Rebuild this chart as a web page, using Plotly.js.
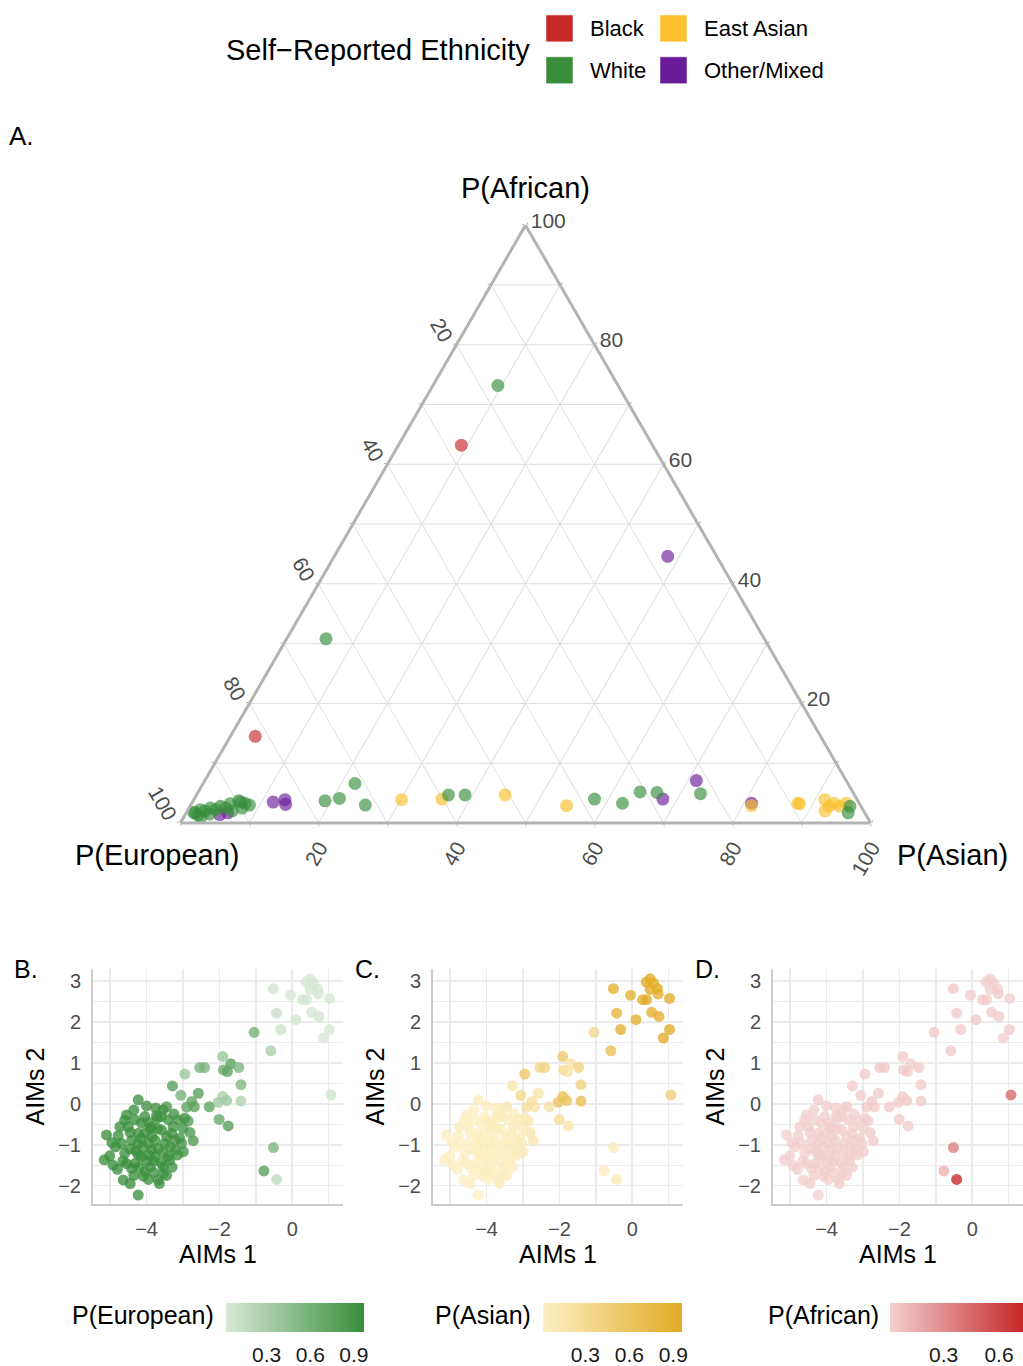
<!DOCTYPE html>
<html><head><meta charset="utf-8">
<script src="https://cdn.plot.ly/plotly-3.0.1.min.js"></script>
<style>html,body{margin:0;padding:0;background:#fff;overflow:hidden;width:1023px;height:1366px}#chart{width:1023px;height:1366px;overflow:hidden}</style>
</head><body><div id="chart"></div>
<script>
// ---------------- DATA ----------------
const ethnicities = ['Black', 'East Asian', 'White', 'Other/Mixed'];
const ethColors = {'Black':'#c62828', 'White':'#388e3c', 'East Asian':'#fbc02d', 'Other/Mixed':'#6a1b9a'};
const drawOrder = ['Other/Mixed', 'East Asian', 'Black', 'White'];

// Ternary values (%), per self-reported ethnicity
const blackAfr = [63.2, 14.5];
const blackEur = [27.7, 81.9];
const blackAsi = [9.1, 3.6];

const whiteAfr = [73.2, 30.8, 1.7, 2.2, 2.0, 2.5, 2.2, 2.8, 2.5, 3.2, 3.7, 3.3, 2.5, 1.3, 1.5, 3.0, 1.0, 2.0, 3.5, 1.8,
                  3.7, 4.1, 6.6, 3.0, 4.7, 4.7, 4.0, 3.3, 5.2, 5.1, 4.9, 2.8, 1.7];
const whiteEur = [17.4, 63.5, 97.0, 96.0, 95.4, 94.4, 93.8, 92.8, 92.2, 91.2, 89.7, 89.0, 89.8, 96.8, 95.0, 88.5, 96.5, 91.5, 89.5, 97.2,
                  77.2, 74.9, 71.4, 71.7, 58.8, 56.4, 38.0, 34.3, 30.8, 28.4, 22.2, 1.6, 2.4];
const whiteAsi = [9.4, 5.7, 1.3, 1.8, 2.6, 3.1, 4.0, 4.4, 5.3, 5.6, 6.6, 7.7, 7.7, 1.9, 3.5, 8.5, 2.5, 6.5, 7.0, 1.0,
                  19.1, 21.0, 22.0, 25.3, 36.5, 38.9, 58.0, 62.4, 64.0, 66.5, 72.9, 95.6, 95.9];

const asianAfr = [3.9, 4.0, 4.7, 2.9, 2.9, 3.3, 3.2, 3.9, 2.0, 3.3, 2.8, 3.3, 2.8];
const asianEur = [66.0, 60.1, 50.6, 42.6, 15.8, 8.9, 8.7, 4.7, 5.6, 3.6, 3.1, 1.9, 4.6];
const asianAsi = [30.1, 35.9, 44.7, 54.5, 81.3, 87.8, 88.1, 91.4, 92.4, 93.1, 94.1, 94.8, 92.6];

const otherAfr = [44.6, 1.7, 3.5, 3.9, 3.1, 4.0, 7.1, 3.3, 1.4];
const otherEur = [7.1, 92.3, 84.8, 82.9, 83.2, 28.1, 21.7, 15.6, 93.6];
const otherAsi = [48.3, 6.0, 11.7, 13.2, 13.7, 67.9, 71.2, 81.1, 5.0];

const ternaryTickVals = [0, 10, 20, 30, 40, 50, 60, 70, 80, 90, 100];
const ternaryTickText = ['100', '', '80', '', '60', '', '40', '', '20', '', ''];

// AIMs principal components and ancestry proportions
const aims1 = [
 -0.52, -0.05, 0.38, 0.49, 0.58, 0.69, 0.49, 0.71, 0.28, 0.39,
 1.02, -0.43, 0.53, 0.10, 0.73, -0.32, 1.02, 0.85, -1.05, -0.59,
 1.06, -0.52, -0.78, -0.43, -1.91, -1.69, -1.89, -1.78, -1.47, -2.54,
 -2.41, -2.95, -1.41, -3.29, -3.06, -2.58, -2.76, -2.69, -2.90, -2.28,
 -2.03, -1.91, -1.80, -1.41, -2.01, -1.76, -4.23, -3.45, -2.86, -2.81,
 -2.72, -4.55, -5.10, -4.78, -4.73, -5.16, -5.01, -4.92, -4.55, -4.64,
 -4.41, -4.23, -4.09, -3.68, -3.54, -3.54, -3.36, -2.99, -3.22, -3.13,
 -3.40, -3.73, -4.05, -4.32, -4.50, -4.69, -4.60, -4.23, -4.05, -3.86,
 -3.59, -3.31, -3.09, -3.50, -3.86, -4.14, -3.77, -4.32, -3.90, -3.04,
 -4.41, -3.95, -4.14, -3.59, -3.27, -4.05, -4.23, -3.41, -3.77, -4.23,
 -3.68, -3.22, -3.95, -4.00, -3.60, -4.45, -3.85, -3.45, -4.10, -3.70,
 -4.85, -4.95, -4.45, -4.35, -3.95, -3.80, -3.30, -3.15, -3.00, -2.95,
 -3.55, -3.75, -4.35, -4.00, -4.65, -4.80, -4.20, -3.65, -4.45, -3.35,
 -3.95, -4.15, -3.55, -3.80, -4.30, -3.70, -3.25, -4.60, -3.90, -3.45];
const aims2 = [
 2.82, 2.66, 2.98, 3.06, 2.96, 2.82, 2.80, 2.69, 2.55, 2.55,
 2.58, 2.22, 2.24, 2.06, 2.14, 1.82, 1.82, 1.61, 1.75, 1.30,
 0.22, -1.07, -1.64, -1.85, 1.16, 0.98, 0.83, 0.79, 0.89, 0.89,
 0.89, 0.73, 0.47, 0.44, 0.21, 0.26, 0.06, -0.07, -0.08, -0.07,
 0.04, 0.18, 0.08, 0.07, -0.38, -0.54, 0.10, -0.07, -0.42, -0.70,
 -0.90, -0.27, -0.76, -0.78, -0.56, -1.37, -1.27, -1.50, -1.46, -1.86,
 -1.58, -2.23, -1.77, -1.86, -1.70, -1.54, -1.37, -1.17, -1.13, -0.39,
 -0.39, -0.29, -0.31, -0.39, -0.56, -0.97, -1.21, -0.97, -0.72, -0.56,
 -0.64, -0.72, -0.84, -0.97, -1.13, -1.29, -1.29, -1.46, -1.54, -0.97,
 -0.89, -0.97, -0.47, -0.31, -0.56, -1.66, -1.25, -1.29, -0.89, -0.72,
 -1.09, -0.89, -0.45, -1.40, -1.45, -1.10, -0.80, -0.80, -1.05, -0.60,
 -1.05, -0.95, -0.70, -1.75, -1.85, -1.68, -1.55, -1.25, -0.60, -0.35,
 -0.15, -0.10, -0.15, -0.05, -1.40, -1.60, -1.55, -1.95, -1.95, -1.05,
 -1.25, -0.85, -1.20, -1.40, -1.15, -0.35, -0.25, -0.40, -0.60, -1.75];
const pEuropean = [
 0.06, 0.05, 0.03, 0.02, 0.03, 0.04, 0.03, 0.04, 0.05, 0.04,
 0.03, 0.12, 0.04, 0.05, 0.05, 0.09, 0.03, 0.02, 0.62, 0.28,
 0.07, 0.58, 0.80, 0.17, 0.40, 0.78, 0.68, 0.75, 0.55, 0.60,
 0.58, 0.38, 0.55, 0.80, 0.62, 0.80, 0.74, 0.76, 0.74, 0.76,
 0.36, 0.30, 0.34, 0.26, 0.70, 0.80, 0.92, 0.85, 0.82, 0.84,
 0.85, 0.95, 0.97, 0.96, 0.94, 0.97, 0.96, 0.95, 0.96, 0.97,
 0.95, 0.96, 0.94, 0.93, 0.94, 0.95, 0.92, 0.90, 0.91, 0.90,
 0.92, 0.93, 0.95, 0.96, 0.96, 0.97, 0.96, 0.95, 0.95, 0.94,
 0.93, 0.92, 0.91, 0.93, 0.95, 0.96, 0.94, 0.96, 0.95, 0.91,
 0.96, 0.95, 0.96, 0.93, 0.92, 0.94, 0.96, 0.95, 0.93, 0.94,
 0.95, 0.94, 0.92, 0.94, 0.95, 0.94, 0.96, 0.94, 0.93, 0.94,
 0.97, 0.96, 0.95, 0.96, 0.95, 0.94, 0.93, 0.92, 0.91, 0.90,
 0.93, 0.94, 0.95, 0.94, 0.96, 0.97, 0.95, 0.94, 0.96, 0.93,
 0.95, 0.95, 0.94, 0.95, 0.96, 0.93, 0.91, 0.96, 0.94, 0.93];
const pAsian = [
 0.91, 0.92, 0.95, 0.96, 0.95, 0.94, 0.95, 0.93, 0.92, 0.93,
 0.95, 0.84, 0.93, 0.91, 0.92, 0.88, 0.94, 0.96, 0.34, 0.68,
 0.48, 0.06, 0.05, 0.10, 0.57, 0.19, 0.29, 0.22, 0.42, 0.36,
 0.38, 0.59, 0.42, 0.17, 0.35, 0.17, 0.23, 0.21, 0.23, 0.21,
 0.61, 0.67, 0.63, 0.71, 0.27, 0.17, 0.05, 0.12, 0.15, 0.13,
 0.12, 0.03, 0.02, 0.02, 0.04, 0.01, 0.02, 0.03, 0.02, 0.01,
 0.03, 0.02, 0.04, 0.05, 0.04, 0.03, 0.06, 0.08, 0.07, 0.08,
 0.06, 0.05, 0.03, 0.02, 0.02, 0.01, 0.02, 0.03, 0.03, 0.04,
 0.05, 0.06, 0.07, 0.05, 0.03, 0.02, 0.04, 0.02, 0.03, 0.07,
 0.02, 0.03, 0.02, 0.05, 0.06, 0.04, 0.02, 0.03, 0.05, 0.04,
 0.03, 0.04, 0.06, 0.04, 0.03, 0.04, 0.02, 0.04, 0.05, 0.04,
 0.01, 0.02, 0.03, 0.02, 0.03, 0.04, 0.05, 0.06, 0.07, 0.08,
 0.05, 0.04, 0.03, 0.04, 0.02, 0.01, 0.03, 0.04, 0.02, 0.05,
 0.03, 0.03, 0.04, 0.03, 0.02, 0.05, 0.07, 0.02, 0.04, 0.05];
const pAfrican = [
 0.03, 0.03, 0.02, 0.02, 0.02, 0.02, 0.02, 0.03, 0.03, 0.03,
 0.02, 0.04, 0.03, 0.04, 0.03, 0.03, 0.03, 0.02, 0.04, 0.04,
 0.45, 0.36, 0.15, 0.73, 0.03, 0.03, 0.03, 0.03, 0.03, 0.04,
 0.04, 0.03, 0.03, 0.03, 0.03, 0.03, 0.03, 0.03, 0.03, 0.03,
 0.03, 0.03, 0.03, 0.03, 0.03, 0.03, 0.03, 0.03, 0.03, 0.03,
 0.03, 0.02, 0.01, 0.02, 0.02, 0.02, 0.02, 0.02, 0.02, 0.02,
 0.02, 0.02, 0.02, 0.02, 0.02, 0.02, 0.02, 0.02, 0.02, 0.02,
 0.02, 0.02, 0.02, 0.02, 0.02, 0.02, 0.02, 0.02, 0.02, 0.02,
 0.02, 0.02, 0.02, 0.02, 0.02, 0.02, 0.02, 0.02, 0.02, 0.02,
 0.02, 0.02, 0.02, 0.02, 0.02, 0.02, 0.02, 0.02, 0.02, 0.02,
 0.02, 0.02, 0.02, 0.02, 0.02, 0.02, 0.02, 0.02, 0.02, 0.02,
 0.02, 0.02, 0.02, 0.02, 0.02, 0.02, 0.02, 0.02, 0.02, 0.02,
 0.02, 0.02, 0.02, 0.02, 0.02, 0.02, 0.02, 0.02, 0.02, 0.02,
 0.02, 0.02, 0.02, 0.02, 0.02, 0.02, 0.02, 0.02, 0.02, 0.02];
const colorbarTicksEur = [0.3, 0.6, 0.9];
const colorbarTicksAsi = [0.3, 0.6, 0.9];
const colorbarTicksAfr = [0.3, 0.6];

// ---------------- LAYOUT HELPERS ----------------
const W = 1023, H = 1366;
const px = x => x / W;
const py = y => 1 - y / H;
const FONT = 'Liberation Sans, Arial, Helvetica, sans-serif';

const ternGroups = {
  'Black': [blackAfr, blackEur, blackAsi],
  'White': [whiteAfr, whiteEur, whiteAsi],
  'East Asian': [asianAfr, asianEur, asianAsi],
  'Other/Mixed': [otherAfr, otherEur, otherAsi]
};

const traces = [];
drawOrder.forEach(name => {
  const g = ternGroups[name];
  traces.push({
    type: 'scatterternary', mode: 'markers', name: name, showlegend: false,
    a: g[0], b: g[1], c: g[2],
    marker: {size: 13, color: ethColors[name], opacity: 0.65, line: {width: 0}},
    hoverinfo: 'skip'
  });
});

const panels = [
  {x: 'x', y: 'y', color: pEuropean, ca: 'coloraxis'},
  {x: 'x2', y: 'y2', color: pAsian, ca: 'coloraxis2'},
  {x: 'x3', y: 'y3', color: pAfrican, ca: 'coloraxis3'}
];
panels.forEach(p => {
  traces.push({
    type: 'scatter', mode: 'markers', xaxis: p.x, yaxis: p.y, showlegend: false,
    x: aims1, y: aims2,
    marker: {size: 11, color: p.color, coloraxis: p.ca, opacity: 0.78, line: {width: 0}},
    hoverinfo: 'skip'
  });
});

const panelLeft = [93, 433, 773];
const ternAxis = (title) => ({
  title: {text: title, font: {size: 29, color: '#000', family: FONT}},
  tickmode: 'array', tickvals: ternaryTickVals, ticktext: ternaryTickText,
  tickfont: {size: 21, color: '#4d4d4d', family: FONT},
  ticks: 'outside', ticklen: 2, tickcolor: '#b3b3b3', tickwidth: 1,
  showline: true, linecolor: '#b3b3b3', linewidth: 3,
  showgrid: true, gridcolor: '#dedede', gridwidth: 1
});

const layout = {
  width: W, height: H,
  margin: {l: 0, r: 0, t: 0, b: 0},
  paper_bgcolor: '#fff', plot_bgcolor: '#fff',
  font: {family: FONT, color: '#000'},
  showlegend: false,
  ternary: {
    domain: {x: [px(179), px(872)], y: [py(826), py(226)]},
    sum: 100, bgcolor: '#fff',
    aaxis: Object.assign(ternAxis('P(African)'), {tickangle: 60}),
    baxis: Object.assign(ternAxis(''), {tickangle: -60}),
    caxis: Object.assign(ternAxis(''), {tickangle: 0})
  },
  annotations: [],
  shapes: []
};

const xBase = {
  range: [-5.47, 1.39], tickmode: 'linear', tick0: 0, dtick: 2,
  minor: {tickmode: 'linear', tick0: 0, dtick: 1, showgrid: true, gridcolor: '#ebebeb', gridwidth: 1.3},
  showgrid: true, gridcolor: '#ebebeb', gridwidth: 1.8, zeroline: false,
  showline: true, linecolor: '#cccccc', linewidth: 2, ticks: '',
  tickfont: {size: 20, color: '#4d4d4d'}, ticklabelstandoff: 6,
  title: {text: 'AIMs 1', font: {size: 25, color: '#000'}, standoff: 6}
};
const yBase = {
  range: [-2.44, 3.29], tickmode: 'linear', tick0: 0, dtick: 1,
  minor: {tickmode: 'linear', tick0: 0, dtick: 0.5, showgrid: true, gridcolor: '#ebebeb', gridwidth: 1.3},
  showgrid: true, gridcolor: '#ebebeb', gridwidth: 1.8, zeroline: false,
  showline: true, linecolor: '#cccccc', linewidth: 2, ticks: '',
  tickfont: {size: 20, color: '#4d4d4d'}, ticklabelstandoff: 6,
  title: {text: 'AIMs 2', font: {size: 25, color: '#000'}, standoff: 6}
};
['', '2', '3'].forEach((s, i) => {
  layout['xaxis' + s] = Object.assign({}, JSON.parse(JSON.stringify(xBase)),
    {domain: [px(panelLeft[i]), Math.min(1, px(panelLeft[i] + 250))], anchor: 'y' + s});
  layout['yaxis' + s] = Object.assign({}, JSON.parse(JSON.stringify(yBase)),
    {domain: [py(1208), py(973)], anchor: 'x' + s});
});

const mkBar = (scale, vals, ticks, left, len) => ({
  colorscale: scale, cmin: Math.min(...vals), cmax: Math.max(...vals),
  colorbar: {
    orientation: 'h', x: px(left), xanchor: 'left', y: py(1308), yanchor: 'top',
    lenmode: 'pixels', len: len, thicknessmode: 'pixels', thickness: 29,
    tickmode: 'array', tickvals: ticks, ticks: 'outside', ticklen: 5, tickcolor: '#ffffff', tickwidth: 1,
    outlinewidth: 0, xpad: 0, ypad: 0, tickfont: {size: 21, color: '#1a1a1a'}
  }
});
layout.coloraxis = mkBar([[0, '#d8e9d6'], [1, '#388e3c']], pEuropean, colorbarTicksEur, 226, 138);
layout.coloraxis2 = mkBar([[0, '#fdefc4'], [1, '#e2ab25']], pAsian, colorbarTicksAsi, 543, 139);
layout.coloraxis3 = mkBar([[0, '#f3d0d0'], [1, '#c62828']], pAfrican, colorbarTicksAfr, 890, 133);

const ann = (text, x, y, size, xanchor, extra) => Object.assign({
  text: text, x: px(x), y: py(y), xref: 'paper', yref: 'paper', showarrow: false,
  xanchor: xanchor || 'left', yanchor: 'middle', font: {size: size, color: '#000', family: FONT}
}, extra || {});

layout.annotations.push(ann('A.', 7, 136, 26));
layout.annotations.push(ann('B.', 12, 973, 25));
layout.annotations.push(ann('C.', 353, 973, 25));
layout.annotations.push(ann('D.', 693, 973, 25));
layout.annotations.push(ann('P(European)', 157, 858, 29, 'center'));
layout.annotations.push(ann('P(Asian)', 952, 858, 29, 'center'));
layout.annotations.push(ann('P(European)', 216, 1320, 25, 'right'));
layout.annotations.push(ann('P(Asian)', 533, 1320, 25, 'right'));
layout.annotations.push(ann('P(African)', 881, 1320, 25, 'right'));

// Legend (drawn as keys + labels)
layout.annotations.push(ann('Self\u2212Reported Ethnicity', 532, 50, 29, 'right'));
ethnicities.forEach((name, i) => {
  const col = i % 2, row = Math.floor(i / 2);
  const x0 = 546 + col * 114, y0 = 15 + row * 42;
  layout.shapes.push({type: 'rect', xref: 'paper', yref: 'paper',
    x0: px(x0), x1: px(x0 + 27), y0: py(y0 + 27), y1: py(y0),
    fillcolor: ethColors[name], line: {width: 1, color: 'rgba(255,255,255,0.5)'}});
  layout.annotations.push(ann(name, x0 + 42, y0 + 14, 22, 'left'));
});

Plotly.newPlot('chart', traces, layout, {staticPlot: true, displayModeBar: false});
</script></body></html>
